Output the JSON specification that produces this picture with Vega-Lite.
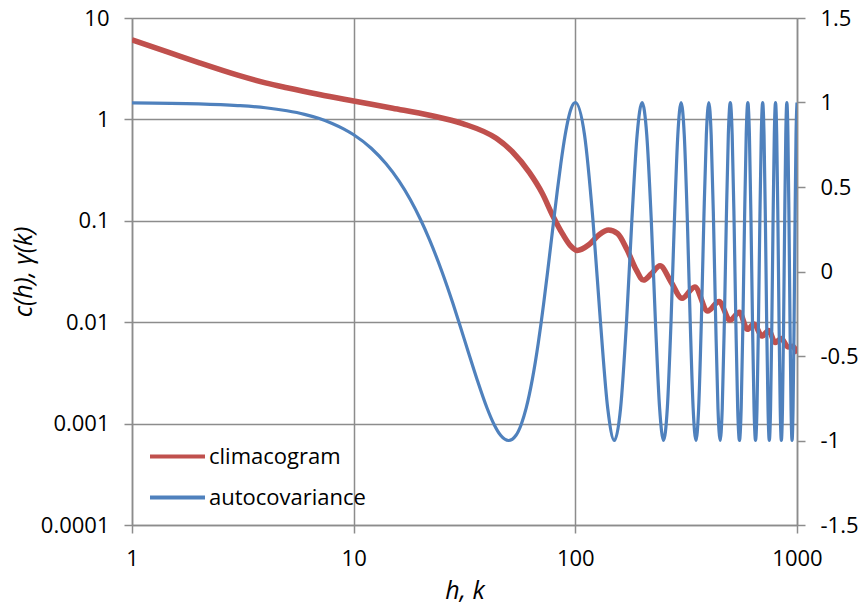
{
  "$schema": "https://vega.github.io/schema/vega-lite/v6.json",
  "width": 665,
  "height": 507,
  "autosize": {"type": "none"},
  "padding": {"left": 132, "top": 18, "right": 68, "bottom": 80},
  "background": "white",
  "view": {"stroke": null},
  "datasets": {
    "clim": [
      {"h": 1, "c": 6.1}, {"h": 1.5, "c": 4.5}, {"h": 2, "c": 3.63}, {"h": 3, "c": 2.73},
      {"h": 4, "c": 2.29}, {"h": 5, "c": 2.05}, {"h": 7, "c": 1.76}, {"h": 10, "c": 1.52},
      {"h": 15, "c": 1.29}, {"h": 22, "c": 1.1}, {"h": 31, "c": 0.91}, {"h": 44, "c": 0.65},
      {"h": 52, "c": 0.48}, {"h": 62, "c": 0.3}, {"h": 71, "c": 0.186}, {"h": 79, "c": 0.113},
      {"h": 88, "c": 0.073}, {"h": 95, "c": 0.057}, {"h": 102, "c": 0.051}, {"h": 115, "c": 0.058},
      {"h": 128, "c": 0.073}, {"h": 141, "c": 0.081}, {"h": 155, "c": 0.075}, {"h": 171, "c": 0.052},
      {"h": 188, "c": 0.033}, {"h": 203, "c": 0.026}, {"h": 220, "c": 0.03}, {"h": 241, "c": 0.036},
      {"h": 270, "c": 0.025}, {"h": 303, "c": 0.0172}, {"h": 346, "c": 0.0223}, {"h": 395, "c": 0.0129},
      {"h": 445, "c": 0.016}, {"h": 498, "c": 0.0105}, {"h": 550, "c": 0.0125}, {"h": 597, "c": 0.0085},
      {"h": 640, "c": 0.0096}, {"h": 695, "c": 0.0073}, {"h": 745, "c": 0.0083}, {"h": 797, "c": 0.0063},
      {"h": 850, "c": 0.0069}, {"h": 910, "c": 0.0057}, {"h": 955, "c": 0.0058}, {"h": 1000, "c": 0.0049}
    ],
    "acov": [
      {"k": 1, "g": 0.998}, {"k": 2, "g": 0.992}, {"k": 3, "g": 0.982}, {"k": 4, "g": 0.969},
      {"k": 5, "g": 0.951}, {"k": 6, "g": 0.93}, {"k": 7, "g": 0.905}, {"k": 8, "g": 0.876},
      {"k": 9, "g": 0.844}, {"k": 10, "g": 0.809}, {"k": 12, "g": 0.729}, {"k": 14, "g": 0.637},
      {"k": 16, "g": 0.536}, {"k": 18, "g": 0.426}, {"k": 20, "g": 0.309}, {"k": 22, "g": 0.187},
      {"k": 25, "g": 0}, {"k": 28, "g": -0.187}, {"k": 30, "g": -0.309}, {"k": 33, "g": -0.482},
      {"k": 36, "g": -0.637}, {"k": 40, "g": -0.809}, {"k": 43, "g": -0.905}, {"k": 46, "g": -0.969},
      {"k": 50, "g": -1}, {"k": 54, "g": -0.969}, {"k": 57, "g": -0.905}, {"k": 60, "g": -0.809},
      {"k": 64, "g": -0.637}, {"k": 68, "g": -0.426}, {"k": 70, "g": -0.309}, {"k": 72, "g": -0.187},
      {"k": 75, "g": 0}, {"k": 78, "g": 0.187}, {"k": 80, "g": 0.309}, {"k": 83, "g": 0.482},
      {"k": 86, "g": 0.637}, {"k": 90, "g": 0.809}, {"k": 93, "g": 0.905}, {"k": 96, "g": 0.969},
      {"k": 100, "g": 1}, {"k": 110, "g": 0.809}, {"k": 120, "g": 0.309}, {"k": 130, "g": -0.309},
      {"k": 140, "g": -0.809}, {"k": 150, "g": -1}, {"k": 160, "g": -0.809}, {"k": 170, "g": -0.309},
      {"k": 180, "g": 0.309}, {"k": 190, "g": 0.809}, {"k": 200, "g": 1}, {"k": 210, "g": 0.809},
      {"k": 220, "g": 0.309}, {"k": 230, "g": -0.309}, {"k": 240, "g": -0.809}, {"k": 250, "g": -1},
      {"k": 260, "g": -0.809}, {"k": 270, "g": -0.309}, {"k": 280, "g": 0.309}, {"k": 290, "g": 0.809},
      {"k": 300, "g": 1}, {"k": 310, "g": 0.809}, {"k": 320, "g": 0.309}, {"k": 330, "g": -0.309},
      {"k": 340, "g": -0.809}, {"k": 350, "g": -1}, {"k": 360, "g": -0.809}, {"k": 370, "g": -0.309},
      {"k": 380, "g": 0.309}, {"k": 390, "g": 0.809}, {"k": 400, "g": 1}, {"k": 410, "g": 0.809},
      {"k": 420, "g": 0.309}, {"k": 430, "g": -0.309}, {"k": 440, "g": -0.809}, {"k": 450, "g": -1},
      {"k": 460, "g": -0.809}, {"k": 470, "g": -0.309}, {"k": 480, "g": 0.309}, {"k": 490, "g": 0.809},
      {"k": 500, "g": 1}, {"k": 510, "g": 0.809}, {"k": 520, "g": 0.309}, {"k": 530, "g": -0.309},
      {"k": 540, "g": -0.809}, {"k": 550, "g": -1}, {"k": 560, "g": -0.809}, {"k": 570, "g": -0.309},
      {"k": 580, "g": 0.309}, {"k": 590, "g": 0.809}, {"k": 600, "g": 1}, {"k": 610, "g": 0.809},
      {"k": 620, "g": 0.309}, {"k": 630, "g": -0.309}, {"k": 640, "g": -0.809}, {"k": 650, "g": -1},
      {"k": 660, "g": -0.809}, {"k": 670, "g": -0.309}, {"k": 680, "g": 0.309}, {"k": 690, "g": 0.809},
      {"k": 700, "g": 1}, {"k": 710, "g": 0.809}, {"k": 720, "g": 0.309}, {"k": 730, "g": -0.309},
      {"k": 740, "g": -0.809}, {"k": 750, "g": -1}, {"k": 760, "g": -0.809}, {"k": 770, "g": -0.309},
      {"k": 780, "g": 0.309}, {"k": 790, "g": 0.809}, {"k": 800, "g": 1}, {"k": 810, "g": 0.809},
      {"k": 820, "g": 0.309}, {"k": 830, "g": -0.309}, {"k": 840, "g": -0.809}, {"k": 850, "g": -1},
      {"k": 860, "g": -0.809}, {"k": 870, "g": -0.309}, {"k": 880, "g": 0.309}, {"k": 890, "g": 0.809},
      {"k": 900, "g": 1}, {"k": 910, "g": 0.809}, {"k": 920, "g": 0.309}, {"k": 930, "g": -0.309},
      {"k": 940, "g": -0.809}, {"k": 950, "g": -1}, {"k": 960, "g": -0.809}, {"k": 970, "g": -0.309},
      {"k": 980, "g": 0.309}, {"k": 990, "g": 0.809}, {"k": 1000, "g": 1}
    ]
  },
  "layer": [
    {
      "data": {"name": "clim"},
      "mark": {"type": "line", "interpolate": "monotone", "strokeWidth": 5.5, "clip": true},
      "encoding": {
        "x": {
          "field": "h", "type": "quantitative",
          "scale": {"type": "log", "domain": [1, 1000], "nice": false},
          "axis": {"values": [1, 10, 100, 1000], "format": "d", "title": "h, k", "grid": true, "titlePadding": 9}
        },
        "y": {
          "field": "c", "type": "quantitative",
          "scale": {"type": "log", "domain": [0.0001, 10], "nice": false},
          "axis": {"values": [0.0001, 0.001, 0.01, 0.1, 1, 10], "labelExpr": "format(datum.value, '~g')", "title": "c(h), γ(k)", "grid": true, "titlePadding": 4}
        },
        "color": {
          "datum": "climacogram",
          "scale": {"domain": ["climacogram", "autocovariance"], "range": ["#C0504D", "#4F81BD"]},
          "legend": {"title": null, "orient": "bottom-left", "offset": 16}
        }
      }
    },
    {
      "data": {"name": "acov"},
      "mark": {"type": "line", "interpolate": "monotone", "strokeWidth": 3.2, "clip": true},
      "encoding": {
        "x": {"field": "k", "type": "quantitative"},
        "y": {
          "field": "g", "type": "quantitative",
          "scale": {"domain": [-1.5, 1.5], "nice": false},
          "axis": {"orient": "right", "values": [-1.5, -1, -0.5, 0, 0.5, 1, 1.5], "labelExpr": "'' + datum.value", "title": null, "grid": false}
        },
        "color": {"datum": "autocovariance"}
      }
    }
  ],
  "resolve": {"scale": {"y": "independent"}},
  "config": {
    "font": "Open Sans",
    "axis": {
      "labelFont": "Open Sans", "labelFontSize": 22, "labelColor": "#000000",
      "titleFont": "Open Sans", "titleFontSize": 25, "titleFontStyle": "italic", "titleFontWeight": "normal", "titleColor": "#000000",
      "domainColor": "#8c8c8c", "domainWidth": 1.5,
      "tickColor": "#8c8c8c", "tickWidth": 1.5, "tickSize": 8,
      "gridColor": "#8c8c8c", "gridWidth": 1.5, "gridOpacity": 1,
      "labelPadding": 15, "labelFlush": false, "labelOverlap": false
    },
    "legend": {
      "labelFont": "Open Sans", "labelFontSize": 22, "labelColor": "#000000",
      "symbolType": "stroke", "symbolStrokeWidth": 4, "symbolSize": 3025,
      "labelOffset": 2, "rowPadding": 0, "padding": 0
    }
  }
}
